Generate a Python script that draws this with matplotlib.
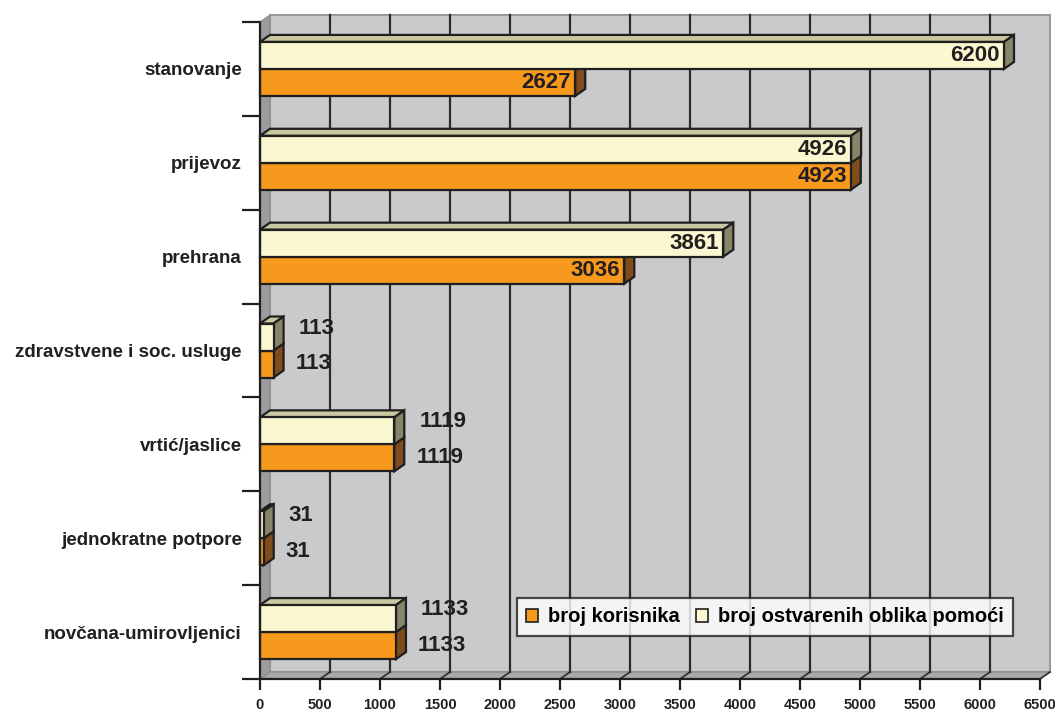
import matplotlib.pyplot as plt
from matplotlib.patches import Polygon
from matplotlib.patches import Patch

plt.rcParams["font.family"] = ["Liberation Sans", "DejaVu Sans"]
plt.rcParams["font.weight"] = "bold"

categories = ["stanovanje", "prijevoz", "prehrana", "zdravstvene i soc. usluge",
              "vrtić/jaslice", "jednokratne potpore", "novčana-umirovljenici"]
broj_korisnika = [2627, 4923, 3036, 113, 1119, 31, 1133]
broj_oblika = [6200, 4926, 3861, 113, 1119, 31, 1133]
series_names = ["broj korisnika", "broj ostvarenih oblika pomoći"]
xticks = list(range(0, 6501, 500))

W, H = 1055, 713
fig = plt.figure(figsize=(W / 100, H / 100), dpi=100)
# front plane of the axes in pixels: x 260..1040, y 22..679 (from top)
L, R, T, B = 260, 1040, 22, 679
ax = fig.add_axes([L / W, 1 - B / H, (R - L) / W, (B - T) / H])
XMAX, NC = 6500, len(categories)
ax.set_xlim(0, XMAX)
ax.set_ylim(0, NC)
ax.patch.set_visible(False)

ux = XMAX / (R - L)          # data units per pixel (x)
uy = NC / (B - T)            # data units per pixel (y)
DX, DY = 10 * ux, 7 * uy     # 3-D depth offset

TXT = "#231f20"
WALL = "#cacacd"

# back wall, side wall, floor
ax.add_patch(Polygon([(DX, DY), (XMAX + DX, DY), (XMAX + DX, NC + DY), (DX, NC + DY)],
                     closed=True, fc=WALL, ec="#9a9a9a", lw=1.5, zorder=0, clip_on=False))
ax.add_patch(Polygon([(0, 0), (DX, DY), (DX, NC + DY), (0, NC)],
                     closed=True, fc="#9c9c9e", ec="#8a8a8a", lw=0.8, zorder=0.5, clip_on=False))
ax.add_patch(Polygon([(0, 0), (XMAX, 0), (XMAX + DX, DY), (DX, DY)],
                     closed=True, fc="#a9a9ab", ec="#8a8a8a", lw=0.8, zorder=0.5, clip_on=False))

# gridlines on back wall + slanted ticks on floor
for x in xticks[1:-1]:
    ax.plot([x + DX, x + DX], [DY, NC + DY], color="#2b2b2b", lw=1.6, zorder=1, clip_on=False)
for x in xticks[1:]:
    ax.plot([x, x + DX], [0, DY], color="#2b2b2b", lw=1.2, zorder=1, clip_on=False)

bar_h = 27 * uy
colors = [
    dict(front="#f7991c", top="#c47a1e", side="#7f4c1c"),
    dict(front="#fbf8d1", top="#c9c8a1", side="#86856a"),
]


def draw_bar(v, y0, y1, c, z):
    kw = dict(closed=True, ec="#1f1f1f", lw=1.6, zorder=z, clip_on=False, joinstyle="miter")
    ax.add_patch(Polygon([(0, y1), (DX, y1 + DY), (v + DX, y1 + DY), (v, y1)], fc=c["top"], **kw))
    ax.add_patch(Polygon([(v, y0), (v + DX, y0 + DY), (v + DX, y1 + DY), (v, y1)], fc=c["side"], **kw))
    ax.add_patch(Polygon([(0, y0), (v, y0), (v, y1), (0, y1)], fc=c["front"], **kw))


for i, (k, o) in enumerate(zip(broj_korisnika, broj_oblika)):
    yc = NC - i - 0.5
    z = 2 + i * 0.1
    draw_bar(k, yc - bar_h, yc, colors[0], z)
    draw_bar(o, yc, yc + bar_h, colors[1], z + 0.05)
    for v, y, top in ((k, yc - bar_h / 2, False), (o, yc + bar_h / 2, True)):
        if v > 2000:
            ax.text(v - 4 * ux, y, f"{v}", ha="right", va="center", fontsize=16,
                    color=TXT, fontweight="bold", zorder=5)
        else:
            off = (15 if top else 12) * ux
            dy = (9 * uy) if top else 0
            ax.text(v + DX + off, y + dy, f"{v}", ha="left", va="center", fontsize=16,
                    color=TXT, fontweight="bold", zorder=5, clip_on=False)

# axes lines and ticks
for s in ("top", "right"):
    ax.spines[s].set_visible(False)
for s in ("left", "bottom"):
    ax.spines[s].set_color("#1f1f1f")
    ax.spines[s].set_linewidth(1.6)
    ax.spines[s].set_zorder(6)

ax.set_xticks(xticks)
ax.set_xticklabels([str(x) for x in xticks], fontsize=10.5, fontweight="bold", color=TXT)
ax.tick_params(axis="x", length=8, width=1.6, color="#1f1f1f", pad=6)
ax.set_yticks(range(NC + 1))
ax.set_yticklabels([])
ax.tick_params(axis="y", length=13, width=1.6, color="#1f1f1f")
ax.set_yticks([NC - i - 0.5 for i in range(NC)], minor=True)
ax.set_yticklabels(categories, minor=True, fontsize=13.5, fontweight="bold", color=TXT)
ax.tick_params(axis="y", which="minor", length=0, pad=13)

handles = [Patch(fc=colors[0]["front"], ec="#1f1f1f", lw=1.2),
           Patch(fc=colors[1]["front"], ec="#1f1f1f", lw=1.2)]
leg = fig.legend(handles, series_names, loc="center", bbox_to_anchor=(765 / W, 1 - 617 / H),
                 ncol=2, frameon=True, fancybox=False, edgecolor="#1f1f1f",
                 prop=dict(family=["Liberation Sans", "DejaVu Sans"], weight="bold", size=14.5),
                 handlelength=0.6, handleheight=0.6, handletextpad=0.5, columnspacing=0.8,
                 borderpad=0.45)
leg.get_frame().set_linewidth(1.6)
leg.set_zorder(10)

fig.savefig("out.png", dpi=100)
